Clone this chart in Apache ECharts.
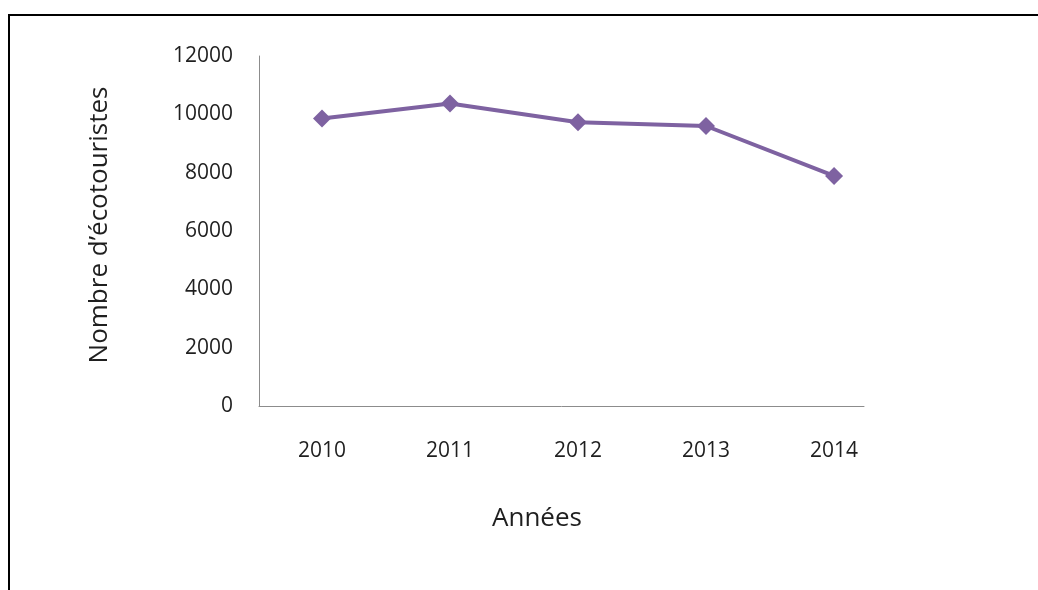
<!DOCTYPE html>
<html>
<head>
<meta charset="utf-8">
<script src="https://cdn.jsdelivr.net/npm/echarts@6/dist/echarts.min.js"></script>
<style>
html,body{margin:0;padding:0;background:#fff;}
#main{width:1038px;height:590px;}
</style>
</head>
<body>
<div id="main"></div>
<script>
const years = [2010, 2011, 2012, 2013, 2014];
const visitors = [9860, 10370, 9730, 9600, 7890];
const yTicks = [0, 2000, 4000, 6000, 8000, 10000, 12000];
const xTitle = 'Années';
const yTitle = 'Nombre d\u2019écotouristes';

const chart = echarts.init(document.getElementById('main'), null, {renderer: 'canvas'});
const font = '"Open Sans", "DejaVu Sans", sans-serif';
const textColor = '#1f1f1f';

chart.setOption({
  animation: false,
  backgroundColor: '#ffffff',
  graphic: [{
    type: 'rect',
    shape: {x: 9, y: 15, width: 1060, height: 620},
    style: {fill: 'none', stroke: '#000', lineWidth: 2},
    silent: true
  }],
  grid: {left: 259, right: 174, top: 56, bottom: 184, containLabel: false},
  xAxis: {
    type: 'value',
    min: 2009.508,
    max: 2014.234,
    name: xTitle,
    nameLocation: 'middle',
    nameGap: 100,
    nameTextStyle: {fontFamily: font, fontSize: 26, color: textColor, padding: [0, 49, 0, 0]},
    axisLine: {show: true, lineStyle: {color: '#8c8c8c', width: 1}},
    axisTick: {show: false},
    splitLine: {show: false},
    axisLabel: {
      customValues: years,
      margin: 35,
      fontFamily: font, fontSize: 21, color: textColor,
      formatter: v => String(v)
    }
  },
  yAxis: {
    type: 'value',
    min: yTicks[0],
    max: yTicks[yTicks.length - 1],
    interval: yTicks[1] - yTicks[0],
    name: yTitle,
    nameLocation: 'middle',
    nameGap: 146,
    nameRotate: 90,
    nameTextStyle: {fontFamily: font, fontSize: 26, color: textColor, padding: [0, 0, 0, 12]},
    axisLine: {show: true, lineStyle: {color: '#8c8c8c', width: 1}},
    axisTick: {show: false},
    splitLine: {show: false},
    axisLabel: {margin: 26, fontFamily: font, fontSize: 21, color: textColor, formatter: v => String(v)}
  },
  series: [{
    type: 'line',
    data: years.map((y, i) => [y, visitors[i]]),
    symbol: 'diamond',
    symbolSize: 18,
    itemStyle: {color: '#7e62a1'},
    lineStyle: {color: '#7e62a1', width: 4},
    z: 3
  }]
});
</script>
</body>
</html>
